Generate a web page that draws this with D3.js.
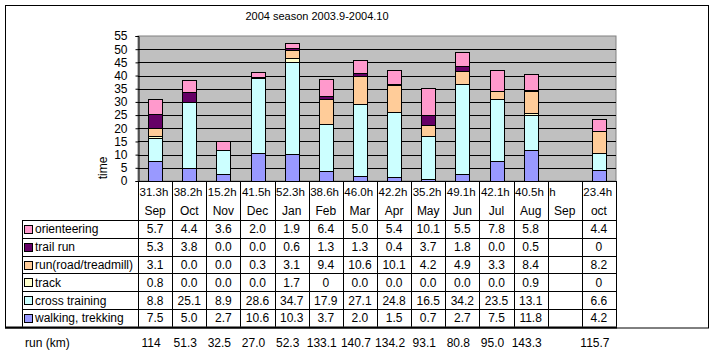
<!DOCTYPE html>
<html>
<head>
<meta charset="utf-8">
<script src="https://cdn.jsdelivr.net/npm/d3@7"></script>
<style>
  body { margin: 0; background: #fff; }
  text { font-family: "Liberation Sans", Arial, sans-serif; }
</style>
</head>
<body>
<div id="chart"></div>
<script>
// month columns (2003.9 - 2004.10)
var months = ["Sep", "Oct", "Nov", "Dec", "Jan", "Feb", "Mar", "Apr", "May", "Jun", "Jul", "Aug", "Sep", "oct"];
var hours  = ["31.3h", "38.2h", "15.2h", "41.5h", "52.3h", "38.6h", "46.0h", "42.2h", "35.2h", "49.1h", "42.1h", "40.5h", "h", "23.4h"];

// series values as they appear in the table
var orienteering  = ["5.7", "4.4", "3.6", "2.0", "1.9", "6.4", "5.0", "5.4", "10.1", "5.5", "7.8", "5.8", "", "4.4"];
var trailRun      = ["5.3", "3.8", "0.0", "0.0", "0.6", "1.3", "1.3", "0.4", "3.7", "1.8", "0.0", "0.5", "", "0"];
var runRoad       = ["3.1", "0.0", "0.0", "0.3", "3.1", "9.4", "10.6", "10.1", "4.2", "4.9", "3.3", "8.4", "", "8.2"];
var track         = ["0.8", "0.0", "0.0", "0.0", "1.7", "0", "0.0", "0.0", "0.0", "0.0", "0.0", "0.9", "", "0"];
var crossTraining = ["8.8", "25.1", "8.9", "28.6", "34.7", "17.9", "27.1", "24.8", "16.5", "34.2", "23.5", "13.1", "", "6.6"];
var walking       = ["7.5", "5.0", "2.7", "10.6", "10.3", "3.7", "2.0", "1.5", "0.7", "2.7", "7.5", "11.8", "", "4.2"];

var runKm = ["114", "51.3", "32.5", "27.0", "52.3", "133.1", "140.7", "134.2", "93.1", "80.8", "95.0", "143.3", "", "115.7"];

var yTicks = [0, 5, 10, 15, 20, 25, 30, 35, 40, 45, 50, 55];

// stacked bottom -> top
var series = [
  {name: "walking, trekking",   values: walking,       color: "#9999ff"},
  {name: "cross training",      values: crossTraining, color: "#ccffff"},
  {name: "track",               values: track,         color: "#ffffcc"},
  {name: "run(road/treadmill)", values: runRoad,       color: "#ffcc99"},
  {name: "trail run",           values: trailRun,      color: "#660066"},
  {name: "orienteering",        values: orienteering,  color: "#ff99cc"}
];

var W = 714, H = 351;
var plot = {left: 138, right: 616, top: 36, bottom: 181};

var svg = d3.select("#chart").append("svg")
    .attr("width", W)
    .attr("height", H);

// outer frame
svg.append("rect")
    .attr("x", 5.5).attr("y", 5.5)
    .attr("width", 703).attr("height", 322.5)
    .attr("fill", "#fff")
    .attr("stroke", "#000");

// title
svg.append("text")
    .attr("x", 317).attr("y", 20)
    .attr("text-anchor", "middle")
    .attr("font-size", 11)
    .text("2004 season 2003.9-2004.10");

// scales
var x = d3.scaleBand()
    .domain(d3.range(months.length))
    .range([plot.left, plot.right])
    .padding(0);

var y = d3.scaleLinear()
    .domain([0, 55])
    .range([plot.bottom, plot.top]);

// plot area
svg.append("rect")
    .attr("x", plot.left).attr("y", plot.top)
    .attr("width", plot.right - plot.left)
    .attr("height", plot.bottom - plot.top)
    .attr("fill", "#c0c0c0")
    .attr("stroke", "#808080");

// gridlines
svg.append("g")
  .selectAll("line")
  .data(yTicks.filter(function(d) { return d > 0 && d < 55; }))
  .enter().append("line")
    .attr("x1", plot.left).attr("x2", plot.right)
    .attr("y1", function(d) { return Math.round(y(d)) + 0.5; })
    .attr("y2", function(d) { return Math.round(y(d)) + 0.5; })
    .attr("stroke", "#000");

// y axis
var yAxis = svg.append("g")
    .attr("transform", "translate(" + (plot.left + 0.5) + ",0)")
    .call(d3.axisLeft(y).tickValues(yTicks).tickSize(3).tickPadding(8));
yAxis.select(".domain").attr("stroke", "#000");
yAxis.selectAll("text")
    .attr("font-size", 12)
    .attr("font-family", "Liberation Sans, Arial, sans-serif")
    .attr("fill", "#000");

svg.append("text")
    .attr("transform", "translate(107,168) rotate(-90)")
    .attr("text-anchor", "middle")
    .attr("font-size", 12)
    .text("time");

// stack the bars
var rows = months.map(function(m, i) {
  var r = {i: i};
  series.forEach(function(s) { r[s.name] = +s.values[i] || 0; });
  return r;
});
var stack = d3.stack().keys(series.map(function(s) { return s.name; }))(rows);

var barW = Math.round(x.bandwidth() * 0.42);

svg.append("g")
  .selectAll("g")
  .data(stack)
  .enter().append("g")
    .attr("fill", function(d, k) { return series[k].color; })
  .selectAll("rect")
  .data(function(d) { return d.filter(function(v) { return v[1] - v[0] > 0; }); })
  .enter().append("rect")
    .attr("x", function(d) { return Math.round(x(d.data.i) + (x.bandwidth() - barW) / 2) + 0.5; })
    .attr("y", function(d) { return Math.round(y(d[1])) + 0.5; })
    .attr("width", barW)
    .attr("height", function(d) { return Math.max(0, Math.round(y(d[0])) - Math.round(y(d[1]))); })
    .attr("stroke", "#000")
    .attr("stroke-width", 1);

// x axis line
svg.append("line")
    .attr("x1", plot.left).attr("x2", plot.right)
    .attr("y1", plot.bottom + 0.5).attr("y2", plot.bottom + 0.5)
    .attr("stroke", "#000");

// ---- data table ----
var legendLeft = 22;
var headTop = plot.bottom, headBottom = 220;
var rowH = 17.8;
var tableBottom = headBottom + rowH * series.length;

var tbl = svg.append("g");

// vertical column lines
tbl.selectAll(".vcol")
  .data(d3.range(months.length + 1))
  .enter().append("line")
    .attr("x1", function(i) { return Math.round(plot.left + i * x.bandwidth()) + 0.5; })
    .attr("x2", function(i) { return Math.round(plot.left + i * x.bandwidth()) + 0.5; })
    .attr("y1", headTop).attr("y2", tableBottom)
    .attr("stroke", "#000");

tbl.append("line")
    .attr("x1", legendLeft + 0.5).attr("x2", legendLeft + 0.5)
    .attr("y1", headBottom).attr("y2", tableBottom)
    .attr("stroke", "#000");

// horizontal row lines
tbl.selectAll(".hrow")
  .data(d3.range(series.length))
  .enter().append("line")
    .attr("x1", legendLeft).attr("x2", plot.right)
    .attr("y1", function(k) { return Math.round(headBottom + k * rowH) + 0.5; })
    .attr("y2", function(k) { return Math.round(headBottom + k * rowH) + 0.5; })
    .attr("stroke", "#000");

tbl.append("line")
    .attr("x1", 5).attr("x2", plot.right + 1)
    .attr("y1", Math.round(tableBottom) + 0.5).attr("y2", Math.round(tableBottom) + 0.5)
    .attr("stroke", "#000")
    .attr("stroke-width", 2);

// header: hours and months
tbl.selectAll(".hrs")
  .data(hours)
  .enter().append("text")
    .attr("x", function(d, i) { return x(i) + 1.5; })
    .attr("y", 196)
    .attr("font-size", 11.5)
    .text(function(d) { return d; });

tbl.selectAll(".mon")
  .data(months)
  .enter().append("text")
    .attr("x", function(d, i) { return x(i) + x.bandwidth() / 2; })
    .attr("y", 215)
    .attr("text-anchor", "middle")
    .attr("font-size", 12)
    .text(function(d) { return d; });

// legend rows (top = orienteering)
var legendRows = series.slice().reverse();

legendRows.forEach(function(s, k) {
  var cy = headBottom + k * rowH + rowH / 2;
  tbl.append("rect")
      .attr("x", 24.5).attr("y", Math.round(cy - 4) + 0.5)
      .attr("width", 8).attr("height", 8)
      .attr("fill", s.color)
      .attr("stroke", "#000");
  tbl.append("text")
      .attr("x", 35).attr("y", cy + 4.5)
      .attr("font-size", 12)
      .text(s.name);
  tbl.selectAll(null)
    .data(s.values)
    .enter().append("text")
      .attr("x", function(d, i) { return x(i) + x.bandwidth() / 2; })
      .attr("y", cy + 4.5)
      .attr("text-anchor", "middle")
      .attr("font-size", 12)
      .text(function(d) { return d; });
});

// run distance row (below the frame)
svg.append("text")
    .attr("x", 25).attr("y", 347)
    .attr("font-size", 12)
    .text("run (km)");

svg.selectAll(".km")
  .data(runKm)
  .enter().append("text")
    .attr("x", function(d, i) { return x(i) + x.bandwidth() / 2 - 4; })
    .attr("y", 347)
    .attr("text-anchor", "middle")
    .attr("font-size", 12)
    .text(function(d) { return d; });
</script>
</body>
</html>
